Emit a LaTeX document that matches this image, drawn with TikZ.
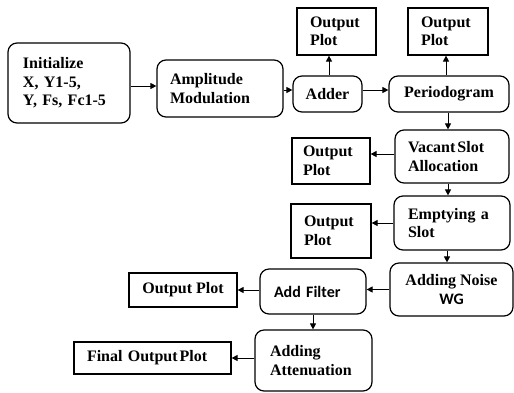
\documentclass[tikz,border=0pt]{standalone}
\usepackage{fontspec}
\setmainfont{Liberation Serif}[BoldFont={Liberation Serif Bold}]
\newfontfamily\calib{Carlito}[BoldFont={Carlito Bold}]
\usetikzlibrary{arrows.meta}
\begin{document}
\begin{tikzpicture}[x=1pt,y=-1pt,
  txt/.style={font=\bfseries\fontsize{16}{18.5}\selectfont},
  rbox/.style={txt, draw, rounded corners=9pt, line width=1.2pt, inner sep=0pt},
  pbox/.style={txt, draw, line width=1.2pt, inner sep=0pt},
  arr/.style={-{Triangle[length=6pt,width=6pt]}, line width=1pt}]
\useasboundingbox (0,0) rectangle (514,392);
\node[rbox, minimum width=122pt, minimum height=80pt, text width=92pt, align=left] (init) at (69,83) {Initialize\\X, Y1-5,\\Y, Fs, Fc1-5};
\node[rbox, minimum width=126pt, minimum height=57pt, text width=100pt, align=left] (amp) at (220,88.5) {Amplitude\\Modulation};
\node[rbox, minimum width=69pt, minimum height=36pt] (adder) at (327.5,94) {Adder};
\node[rbox, minimum width=120pt, minimum height=36pt] (perio) at (449,94) {Periodogram};
\node[pbox, minimum width=79pt, minimum height=47pt, text width=53pt, align=left] (op1) at (336.5,31.5) {Output\\Plot};
\node[pbox, minimum width=80pt, minimum height=47pt, text width=54pt, align=left] (op2) at (448,31.5) {Output\\Plot};
\node[rbox, minimum width=114pt, minimum height=53pt, text width=88pt, align=left] (vac) at (452,156.5) {Vacant\kern2pt Slot\\Allocation};
\node[pbox, minimum width=78pt, minimum height=46pt, text width=56pt, align=left] (opv) at (331,161) {Output\\Plot};
\node[rbox, minimum width=116pt, minimum height=54pt, text width=88pt, align=left] (empty) at (452,223) {Emptying a\\Slot};
\node[pbox, minimum width=80pt, minimum height=54pt, text width=54pt, align=left] (ope) at (331,231) {Output\\Plot};
\node[rbox, minimum width=123pt, minimum height=53pt, align=center] (noise) at (451.5,289.5) {Adding Noise\\{\calib\bfseries WG}};
\node[rbox, minimum width=106pt, minimum height=45pt, text width=78pt, align=left] (filter) at (313,291.5) {\calib\bfseries Add Filter};
\node[pbox, minimum width=108pt, minimum height=34pt] (opf) at (183,290) {Output Plot};
\node[rbox, minimum width=117pt, minimum height=61pt, text width=87pt, align=left] (att) at (313.5,360.5) {Adding\\Attenuation\\[4pt]};
\node[pbox, minimum width=157pt, minimum height=32pt, text width=131pt, align=left] (final) at (152.5,358) {Final Output\kern2pt Plot};
\draw[arr] ([yshift=-3pt]init.east) -- ([yshift=-3pt]init.east -| amp.west);
\draw[arr] ([yshift=-1.5pt]amp.east) -- ([yshift=-1.5pt]amp.east -| adder.west);
\draw[arr] ([yshift=4pt]adder.east) -- ([yshift=4pt]adder.east -| perio.west);
\draw[arr] ([xshift=1.5pt]adder.north) -- ([xshift=1.5pt]adder.north |- op1.south);
\draw[arr] ([xshift=-3pt]perio.north) -- ([xshift=-3pt]perio.north |- op2.south);
\draw[arr] ([xshift=-1pt]perio.south) -- ([xshift=-1pt]perio.south |- vac.north);
\draw[arr] ([yshift=2.5pt]vac.west) -- ([yshift=2.5pt]vac.west -| opv.east);
\draw[arr] ([xshift=-4pt]vac.south) -- ([xshift=-4pt]vac.south |- empty.north);
\draw[arr] (empty.west) -- (empty.west -| ope.east);
\draw[arr] ([xshift=-5pt]empty.south) -- ([xshift=-5pt]empty.south |- noise.north);
\draw[arr] (noise.west) -- (noise.west -| filter.east);
\draw[arr] ([yshift=1.5pt]filter.west) -- ([yshift=1.5pt]filter.west -| opf.east);
\draw[arr] (filter.south) -- (filter.south |- att.north);
\draw[arr] ([yshift=2.5pt]att.west) -- ([yshift=2.5pt]att.west -| final.east);
\end{tikzpicture}
\end{document}
